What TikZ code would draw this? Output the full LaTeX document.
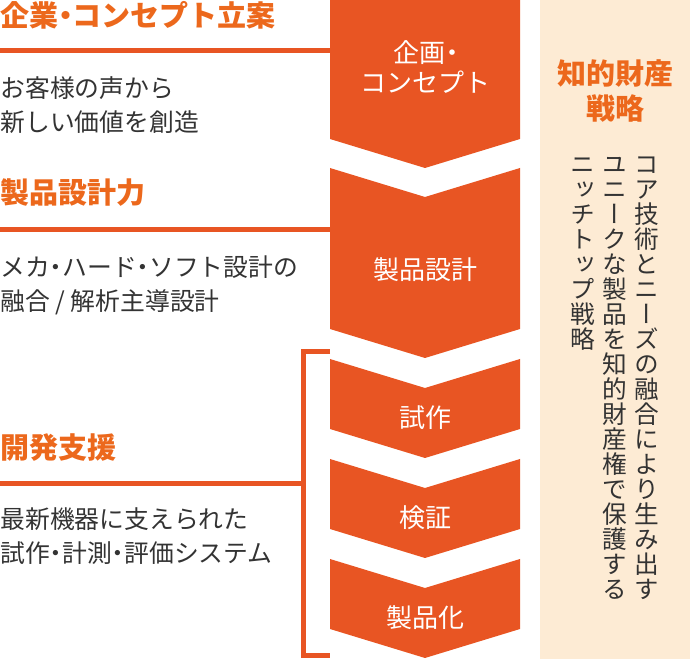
\documentclass[tikz,border=0pt]{standalone}
\usepackage{fontspec}
\setmainfont{Noto Sans CJK JP}
\newfontfamily\vertjp[RawFeature=+vert]{Noto Sans CJK JP}

\definecolor{chevorange}{RGB}{232,85,35}
\definecolor{titleorange}{RGB}{236,104,28}
\definecolor{bodygray}{RGB}{51,51,51}
\definecolor{ipbeige}{RGB}{253,235,212}

% narrow middle dot and vertical column of characters
\newcommand{\nakaguro}{\kern-.25em・\kern-.25em}
\newcommand{\vcolumn}[1]{\vbox{\baselineskip=18.75pt\lineskip=0pt\lineskiplimit=-100pt\vcolstep#1\relax}}
\def\vcolstep#1{\ifx\relax#1\else\hbox to 18.75pt{\vrule height 16.5pt depth 2.25pt width 0pt\hss#1\hss}\expandafter\vcolstep\fi}

\tikzset{every picture/.style={line width=0.75pt}}
\tikzset{
  chevron/.style={fill=chevorange, draw=none},
  leader/.style={draw=chevorange, line width=3.75pt},
  stagelabel/.style={color=white, font=\fontsize{19.5}{22.5}\selectfont, align=center, inner sep=0pt},
  headline/.style={color=titleorange, font=\fontsize{21.75}{26.25}\selectfont\bfseries, inner sep=0pt},
  bodytext/.style={color=bodygray, font=\fontsize{18.6}{25.5}\selectfont, anchor=west, align=left, inner sep=0pt},
  vertcol/.style={color=bodygray, font=\vertjp\fontsize{18.5}{18.75}\selectfont, anchor=north, inner sep=0pt}
}

\begin{document}
\begin{tikzpicture}[x=0.75pt,y=0.75pt,yscale=-1,xscale=1]
\useasboundingbox (0,0) rectangle (690,659);

%Shape: Rectangle (strategy panel)
\fill [ipbeige] (540,0) rectangle (690,659);

%Straight Lines (leaders)
\draw [leader] (0,51) -- (330,51) ;
\draw [leader] (0,230) -- (330,230) ;
\draw [leader] (0,483.5) -- (303.5,483.5) ;
%Shape: Bracket
\draw [leader] (330,351.7) -- (303.5,351.7) -- (303.5,655.6) -- (330,655.6) ;

%Shape: Chevron 1
\fill [chevron] (330,0) -- (520,0) -- (520,139) -- (425,168) -- (330,139) -- cycle ;
%Shape: Chevron 2
\fill [chevron] (330,168) -- (425,197) -- (520,168) -- (520,329) -- (425,358) -- (330,329) -- cycle ;
%Shape: Chevron 3
\fill [chevron] (330,359) -- (425,388) -- (520,359) -- (520,429) -- (425,458) -- (330,429) -- cycle ;
%Shape: Chevron 4
\fill [chevron] (330,459) -- (425,488) -- (520,459) -- (520,529) -- (425,558) -- (330,529) -- cycle ;
%Shape: Chevron 5
\fill [chevron] (330,559) -- (425,588) -- (520,559) -- (520,629) -- (425,658) -- (330,629) -- cycle ;

% Text Node
\node [stagelabel] (concept) at (425,67) {企画\kern-.25em・\kern-.35em\\コンセプト};
% Text Node
\node [stagelabel] (design) at (425,270) {製品設計};
% Text Node
\node [stagelabel] (prototype) at (425,418) {試作};
% Text Node
\node [stagelabel] (verify) at (425,518) {検証};
% Text Node
\node [stagelabel] (product) at (425,618) {製品化};

% Text Node
\node [headline, anchor=west] (planhead) at (0,15) {企業\nakaguro コンセプト立案};
% Text Node
\node [bodytext] (plantext) at (0,105) {お客様の声から\\新しい価値を創造};
% Text Node
\node [headline, anchor=west] (designhead) at (0,193) {製品設計力};
% Text Node
\node [bodytext] (designtext) at (0,285) {メカ\nakaguro ハード\nakaguro ソフト設計の\\融合 / 解析主導設計};
% Text Node
\node [headline, anchor=west] (supporthead) at (0,448) {開発支援};
% Text Node
\node [bodytext] (supporttext) at (0,536) {最新機器に支えられた\\試作\nakaguro 計測\nakaguro 評価システム};

% Text Node
\node [headline, align=center] (iphead) at (615,91) {知的財産\\戦略};
% Text Node
\node [vertcol] (ipcol1) at (647,151) {\vcolumn{コア技術とニーズの融合により生み出す}};
% Text Node
\node [vertcol] (ipcol2) at (615,151) {\vcolumn{ユニークな製品を知的財産権で保護する}};
% Text Node
\node [vertcol] (ipcol3) at (583,151) {\vcolumn{ニッチトップ戦略}};

\end{tikzpicture}
\end{document}
